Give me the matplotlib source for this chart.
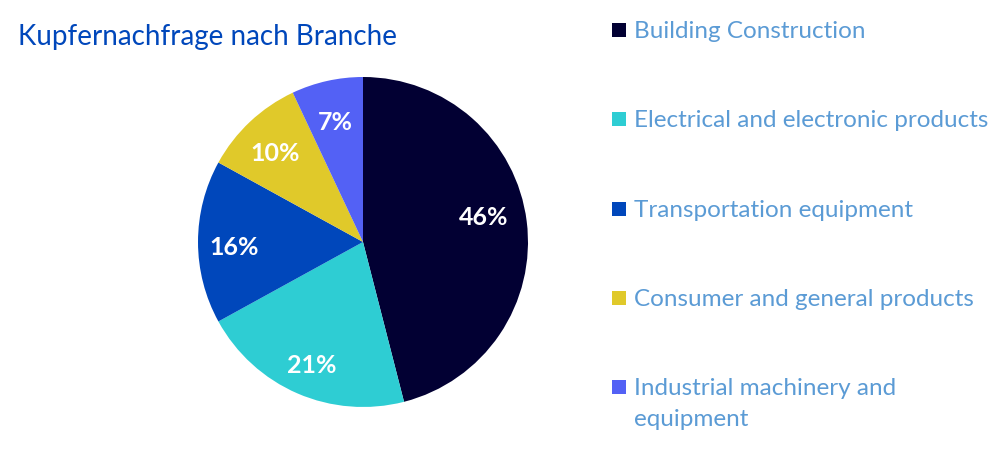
import matplotlib
matplotlib.use("Agg")
import matplotlib.pyplot as plt
from matplotlib.patches import Rectangle

plt.rcParams['font.family'] = ['Lato', 'DejaVu Sans']

# Copper demand by sector (share in %)
branches = ["Building Construction",
            "Electrical and electronic products",
            "Transportation equipment",
            "Consumer and general products",
            "Industrial machinery and\nequipment"]
shares = [46, 21, 16, 10, 7]
colors = ["#020033", "#2ECDD3", "#0047BB", "#E0C92A", "#5361F5"]

title_color = "#0047BB"
legend_color = "#5B9BD5"


def main():
    fig = plt.figure(figsize=(10, 4.5), dpi=100)
    fig.patch.set_facecolor("white")

    # pie axes: centre ~ (363, 242) px, radius ~ 165 px
    ax = fig.add_axes([0.198, 0.0956, 0.33, 0.7333])
    wedges, texts, autotexts = ax.pie(
        shares, colors=colors, startangle=90, counterclock=False,
        autopct="%d%%", pctdistance=0.78, radius=1,
        wedgeprops=dict(linewidth=0),
        textprops=dict(color="white", fontsize=18, fontweight="bold"))
    # nudge labels a little lower, the big slice label a bit higher
    for i, t in enumerate(autotexts):
        x, y = t.get_position()
        if i == 0:
            t.set_position((x - 0.04, y + 0.05))
        else:
            t.set_position((x, y - 0.035))
    ax.set_xlim(-1, 1)
    ax.set_ylim(-1, 1)
    ax.set_aspect("equal")
    ax.axis("off")

    fig.text(0.018, 0.918, "Kupfernachfrage nach Branche", color=title_color,
             fontsize=20, ha="left", va="center")

    # legend, drawn by hand so the wrapped entry keeps its marker on line one
    y0, step = 450 - 30, 89.3
    for i, (name, col) in enumerate(zip(branches, colors)):
        yc = y0 - i * step
        fig.patches.append(Rectangle((612 / 1000, (yc - 7) / 450), 14 / 1000, 14 / 450,
                                     transform=fig.transFigure, facecolor=col,
                                     edgecolor="none"))
        fig.text(634 / 1000, (yc + 9) / 450, name, color=legend_color,
                 fontsize=17.5, ha="left", va="top", linespacing=1.55)

    fig.savefig("out.png", dpi=100, facecolor="white")


if __name__ == '__main__':
    main()
